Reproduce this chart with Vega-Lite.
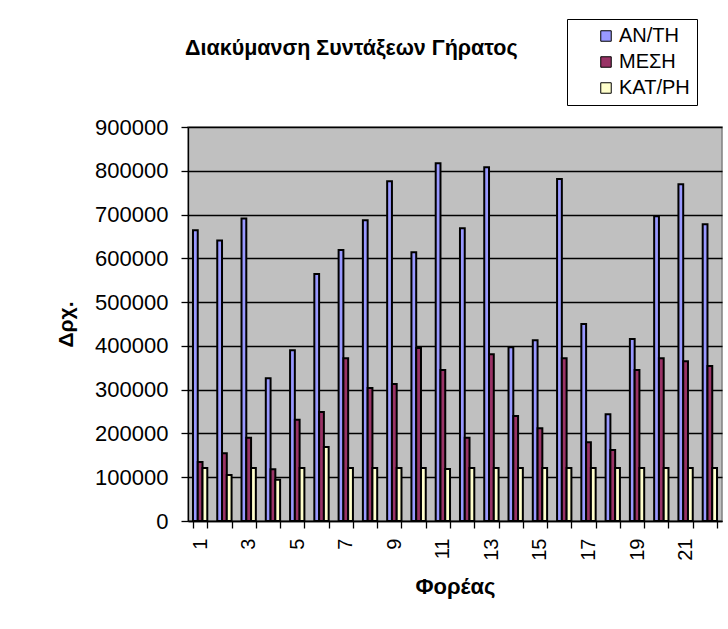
{
  "$schema": "https://vega.github.io/schema/vega-lite/v6.json",
  "width": 534,
  "height": 394,
  "autosize": {"type": "none"},
  "padding": {"left": 188, "top": 127, "right": 6, "bottom": 108},
  "background": "white",
  "title": {
    "text": "Διακύμανση Συντάξεων Γήρατος",
    "anchor": "start",
    "frame": "group",
    "font": "Liberation Sans",
    "fontSize": 21.5,
    "fontWeight": "bold",
    "color": "black",
    "dx": -3,
    "offset": -41
  },
  "data": {
    "values": [
      {"f": 1, "s": "ΑΝ/ΤΗ", "v": 664000}, {"f": 1, "s": "ΜΕΣΗ", "v": 135000}, {"f": 1, "s": "ΚΑΤ/ΡΗ", "v": 121000},
      {"f": 2, "s": "ΑΝ/ΤΗ", "v": 641000}, {"f": 2, "s": "ΜΕΣΗ", "v": 155000}, {"f": 2, "s": "ΚΑΤ/ΡΗ", "v": 105000},
      {"f": 3, "s": "ΑΝ/ΤΗ", "v": 691000}, {"f": 3, "s": "ΜΕΣΗ", "v": 190000}, {"f": 3, "s": "ΚΑΤ/ΡΗ", "v": 121000},
      {"f": 4, "s": "ΑΝ/ΤΗ", "v": 326000}, {"f": 4, "s": "ΜΕΣΗ", "v": 118000}, {"f": 4, "s": "ΚΑΤ/ΡΗ", "v": 94000},
      {"f": 5, "s": "ΑΝ/ΤΗ", "v": 390000}, {"f": 5, "s": "ΜΕΣΗ", "v": 231000}, {"f": 5, "s": "ΚΑΤ/ΡΗ", "v": 121000},
      {"f": 6, "s": "ΑΝ/ΤΗ", "v": 564000}, {"f": 6, "s": "ΜΕΣΗ", "v": 249000}, {"f": 6, "s": "ΚΑΤ/ΡΗ", "v": 169000},
      {"f": 7, "s": "ΑΝ/ΤΗ", "v": 619000}, {"f": 7, "s": "ΜΕΣΗ", "v": 372000}, {"f": 7, "s": "ΚΑΤ/ΡΗ", "v": 121000},
      {"f": 8, "s": "ΑΝ/ΤΗ", "v": 687000}, {"f": 8, "s": "ΜΕΣΗ", "v": 304000}, {"f": 8, "s": "ΚΑΤ/ΡΗ", "v": 121000},
      {"f": 9, "s": "ΑΝ/ΤΗ", "v": 776000}, {"f": 9, "s": "ΜΕΣΗ", "v": 313000}, {"f": 9, "s": "ΚΑΤ/ΡΗ", "v": 121000},
      {"f": 10, "s": "ΑΝ/ΤΗ", "v": 614000}, {"f": 10, "s": "ΜΕΣΗ", "v": 395000}, {"f": 10, "s": "ΚΑΤ/ΡΗ", "v": 121000},
      {"f": 11, "s": "ΑΝ/ΤΗ", "v": 817000}, {"f": 11, "s": "ΜΕΣΗ", "v": 345000}, {"f": 11, "s": "ΚΑΤ/ΡΗ", "v": 119000},
      {"f": 12, "s": "ΑΝ/ΤΗ", "v": 669000}, {"f": 12, "s": "ΜΕΣΗ", "v": 190000}, {"f": 12, "s": "ΚΑΤ/ΡΗ", "v": 121000},
      {"f": 13, "s": "ΑΝ/ΤΗ", "v": 808000}, {"f": 13, "s": "ΜΕΣΗ", "v": 381000}, {"f": 13, "s": "ΚΑΤ/ΡΗ", "v": 121000},
      {"f": 14, "s": "ΑΝ/ΤΗ", "v": 397000}, {"f": 14, "s": "ΜΕΣΗ", "v": 240000}, {"f": 14, "s": "ΚΑΤ/ΡΗ", "v": 121000},
      {"f": 15, "s": "ΑΝ/ΤΗ", "v": 413000}, {"f": 15, "s": "ΜΕΣΗ", "v": 212000}, {"f": 15, "s": "ΚΑΤ/ΡΗ", "v": 121000},
      {"f": 16, "s": "ΑΝ/ΤΗ", "v": 781000}, {"f": 16, "s": "ΜΕΣΗ", "v": 372000}, {"f": 16, "s": "ΚΑΤ/ΡΗ", "v": 121000},
      {"f": 17, "s": "ΑΝ/ΤΗ", "v": 450000}, {"f": 17, "s": "ΜΕΣΗ", "v": 180000}, {"f": 17, "s": "ΚΑΤ/ΡΗ", "v": 121000},
      {"f": 18, "s": "ΑΝ/ΤΗ", "v": 244000}, {"f": 18, "s": "ΜΕΣΗ", "v": 162000}, {"f": 18, "s": "ΚΑΤ/ΡΗ", "v": 121000},
      {"f": 19, "s": "ΑΝ/ΤΗ", "v": 416000}, {"f": 19, "s": "ΜΕΣΗ", "v": 345000}, {"f": 19, "s": "ΚΑΤ/ΡΗ", "v": 121000},
      {"f": 20, "s": "ΑΝ/ΤΗ", "v": 696000}, {"f": 20, "s": "ΜΕΣΗ", "v": 372000}, {"f": 20, "s": "ΚΑΤ/ΡΗ", "v": 121000},
      {"f": 21, "s": "ΑΝ/ΤΗ", "v": 769000}, {"f": 21, "s": "ΜΕΣΗ", "v": 365000}, {"f": 21, "s": "ΚΑΤ/ΡΗ", "v": 121000},
      {"f": 22, "s": "ΑΝ/ΤΗ", "v": 678000}, {"f": 22, "s": "ΜΕΣΗ", "v": 354000}, {"f": 22, "s": "ΚΑΤ/ΡΗ", "v": 121000}
    ]
  },
  "mark": {"type": "bar", "stroke": "black", "strokeWidth": 2, "opacity": 1},
  "encoding": {
    "x": {
      "field": "f",
      "type": "ordinal",
      "sort": "ascending",
      "scale": {"paddingInner": 0.41, "paddingOuter": 0.205},
      "axis": {
        "title": "Φορέας",
        "titleFont": "Liberation Sans",
        "titleFontSize": 22,
        "titleFontWeight": "bold",
        "titleColor": "black",
        "titlePadding": 16,
        "labelAngle": -90,
        "labelFont": "Liberation Sans",
        "labelFontSize": 20,
        "labelColor": "black",
        "labelPadding": 10,
        "labelExpr": "datum.value % 2 == 1 ? datum.label : ''",
        "tickBand": "extent",
        "tickColor": "black",
        "tickSize": 7,
        "domainColor": "black",
        "grid": false
      }
    },
    "xOffset": {"field": "s", "type": "nominal", "sort": ["ΑΝ/ΤΗ", "ΜΕΣΗ", "ΚΑΤ/ΡΗ"], "scale": {"paddingInner": 0, "paddingOuter": 0}},
    "y": {
      "field": "v",
      "type": "quantitative",
      "scale": {"domain": [0, 900000], "nice": false},
      "axis": {
        "title": "Δρχ.",
        "titleFont": "Liberation Sans",
        "titleFontSize": 21,
        "titleFontWeight": "bold",
        "titleColor": "black",
        "titlePadding": 18,
        "values": [0, 100000, 200000, 300000, 400000, 500000, 600000, 700000, 800000, 900000],
        "format": "d",
        "labelFont": "Liberation Sans",
        "labelFontSize": 22,
        "labelColor": "black",
        "labelPadding": 13,
        "tickColor": "black",
        "tickSize": 7,
        "domainColor": "black",
        "grid": true,
        "gridColor": "black",
        "gridWidth": 1.3,
        "gridOpacity": 1
      }
    },
    "color": {
      "field": "s",
      "type": "nominal",
      "sort": ["ΑΝ/ΤΗ", "ΜΕΣΗ", "ΚΑΤ/ΡΗ"],
      "scale": {"domain": ["ΑΝ/ΤΗ", "ΜΕΣΗ", "ΚΑΤ/ΡΗ"], "range": ["#9999FF", "#993366", "#FFFFCC"]},
      "legend": {
        "title": null,
        "orient": "none",
        "legendX": 379,
        "legendY": -108,
        "fillColor": "white",
        "strokeColor": "black",
        "padding": 7,
        "symbolOffset": 22,
        "symbolType": "square",
        "symbolSize": 110,
        "symbolStrokeColor": "black",
        "symbolStrokeWidth": 1,
        "labelFont": "Liberation Sans",
        "labelFontSize": 20,
        "labelColor": "black",
        "labelOffset": 3,
        "rowPadding": 6
      }
    }
  },
  "config": {
    "view": {"fill": "#C0C0C0", "stroke": "#808080", "strokeWidth": 1.5},
    "axis": {"domainWidth": 1.3, "tickWidth": 1.3}
  }
}
